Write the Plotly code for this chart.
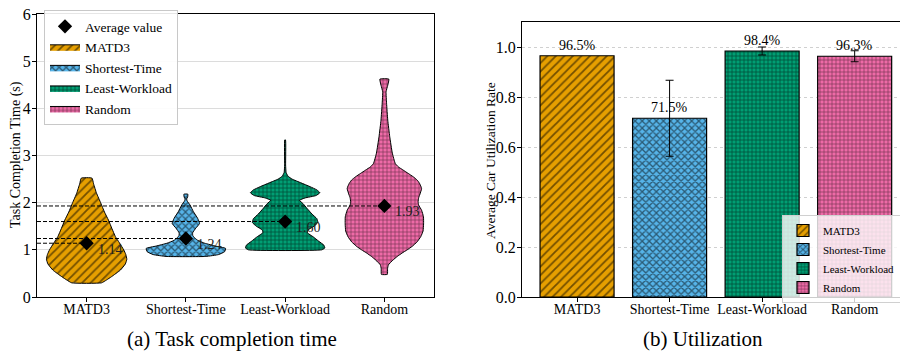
import plotly.graph_objects as go

# ---------------- data ----------------
categories = ["MATD3", "Shortest-Time", "Least-Workload", "Random"]
colors = ["#E69F00", "#56B4E9", "#009E73", "#EE6AA7"]
patterns = ["/", "x", "+", "+"]

# violin outlines: y levels (s) and half-widths (category units)
matd3_y = [0.30, 0.36, 0.43, 0.57, 0.70, 0.80, 0.90, 1.00, 1.15, 1.28, 1.45, 1.63, 1.80, 1.99, 2.20, 2.40, 2.52]
matd3_hw = [0.15, 0.20, 0.25, 0.34, 0.39, 0.405, 0.395, 0.374, 0.33, 0.29, 0.255, 0.22, 0.18, 0.143, 0.10, 0.07, 0.054]

short_y = [0.86, 0.90, 0.96, 1.03, 1.08, 1.14, 1.20, 1.25, 1.30, 1.36, 1.46, 1.56, 1.67, 1.81, 1.95, 2.04, 2.08, 2.12, 2.18]
short_hw = [0.20, 0.33, 0.39, 0.40, 0.30, 0.19, 0.12, 0.09, 0.07, 0.068, 0.10, 0.138, 0.118, 0.076, 0.042, 0.012, 0.008, 0.018, 0.02]

lw_y = [1.00, 1.04, 1.10, 1.18, 1.28, 1.36, 1.42, 1.50, 1.58, 1.66, 1.76, 1.88, 1.98, 2.05, 2.10, 2.15, 2.21, 2.27, 2.34, 2.42, 2.50, 2.56, 2.64, 2.80, 3.33]
lw_hw = [0.37, 0.40, 0.39, 0.34, 0.28, 0.225, 0.23, 0.29, 0.33, 0.32, 0.27, 0.22, 0.18, 0.145, 0.20, 0.31, 0.35, 0.32, 0.25, 0.16, 0.07, 0.03, 0.01, 0.005, 0.004]

rand_y = [0.48, 0.60, 0.68, 0.78, 0.86, 0.93, 1.00, 1.07, 1.17, 1.28, 1.40, 1.55, 1.70, 1.84, 1.95, 2.02, 2.10, 2.16, 2.30, 2.41, 2.48, 2.55, 2.62, 2.69, 2.76, 2.83, 3.05, 3.40, 3.75, 4.11, 4.35, 4.49, 4.62]
rand_hw = [0.03, 0.032, 0.04, 0.085, 0.13, 0.177, 0.23, 0.278, 0.33, 0.367, 0.39, 0.395, 0.394, 0.375, 0.345, 0.34, 0.345, 0.355, 0.375, 0.354, 0.33, 0.29, 0.24, 0.19, 0.14, 0.11, 0.08, 0.054, 0.034, 0.022, 0.017, 0.034, 0.045]

violin_y = [matd3_y, short_y, lw_y, rand_y]
violin_hw = [matd3_hw, short_hw, lw_hw, rand_hw]

mean_time = [1.14, 1.24, 1.60, 1.93]

utilization = [0.965, 0.715, 0.984, 0.963]
util_err = [0.0, 0.152, 0.016, 0.022]

y1_ticks = [0, 1, 2, 3, 4, 5, 6]
y2_ticks = [0.0, 0.2, 0.4, 0.6, 0.8, 1.0]

FONT = "Liberation Serif, Times New Roman, serif"

fig = go.Figure()

# ---------------- left: violins ----------------
pat_size = [6, 5, 4, 4]
pat_sol = [0.3, 0.45, 0.35, 0.3]
for i, name in enumerate(categories):
    ys = violin_y[i]
    hws = violin_hw[i]
    xs = [i + h for h in hws] + [i - h for h in hws[::-1]]
    yy = list(ys) + list(ys[::-1])
    xs.append(xs[0])
    yy.append(yy[0])
    fig.add_trace(go.Scatter(
        x=xs, y=yy, mode="lines", fill="toself", name=name,
        fillcolor=colors[i],
        fillpattern=dict(shape=patterns[i], fgcolor="black", bgcolor=colors[i],
                         size=pat_size[i], solidity=pat_sol[i]),
        line=dict(color="black", width=1, shape="spline", smoothing=0.4),
        xaxis="x", yaxis="y", legend="legend", legendrank=2 + i,
        hoverinfo="skip",
    ))

# dashed mean lines
for i, m in enumerate(mean_time):
    fig.add_trace(go.Scatter(
        x=[-0.5, i], y=[m, m], mode="lines",
        line=dict(color="black", width=1, dash="4px,2px"),
        showlegend=False, xaxis="x", yaxis="y", hoverinfo="skip",
    ))

# mean diamonds
fig.add_trace(go.Scatter(
    x=list(range(len(categories))), y=mean_time, mode="markers",
    marker=dict(symbol="diamond", size=11, color="black"),
    name="Average value", xaxis="x", yaxis="y", legend="legend", legendrank=1,
))

annotations = []
for i, m in enumerate(mean_time):
    annotations.append(dict(
        x=i, y=m, xref="x", yref="y", text=f"{m:.2f}", showarrow=False,
        xanchor="left", yanchor="middle", xshift=9, yshift=-6,
        font=dict(family=FONT, size=14, color="#222"),
    ))

# ---------------- right: bars ----------------
bar_size = [6, 5, 4, 4]
bar_sol = [0.3, 0.45, 0.35, 0.3]
for i, name in enumerate(categories):
    fig.add_trace(go.Bar(
        x=[i], y=[utilization[i]], width=0.8, name=name,
        marker=dict(color=colors[i], line=dict(color="black", width=1.2),
                    pattern=dict(shape=patterns[i], fgcolor="black",
                                 size=bar_size[i], solidity=bar_sol[i])),
        error_y=dict(type="data", array=[util_err[i]], visible=util_err[i] > 0,
                     color="black", thickness=1, width=4),
        xaxis="x2", yaxis="y2", legend="legend2",
    ))
    annotations.append(dict(
        x=i, y=utilization[i], xref="x2", yref="y2", text=f"{utilization[i]*100:.1f}%",
        showarrow=False, xanchor="center", yanchor="bottom", yshift=1,
        font=dict(family=FONT, size=14, color="black"),
    ))

# axis titles and captions
annotations += [
    dict(x=16 / 900, y=(353 - 155) / 353, xref="paper", yref="paper",
         text="Task Completion Time (s)", textangle=-90, showarrow=False,
         xanchor="center", yanchor="middle", font=dict(family=FONT, size=14)),
    dict(x=490 / 900, y=(353 - 160) / 353, xref="paper", yref="paper",
         text="Average Car Utilization Rate", textangle=-90, showarrow=False,
         xanchor="center", yanchor="middle", font=dict(family=FONT, size=13.5)),
    dict(x=232 / 900, y=14 / 353, xref="paper", yref="paper",
         text="(a) Task completion time", showarrow=False,
         xanchor="center", yanchor="middle", font=dict(family=FONT, size=21)),
    dict(x=703 / 900, y=14 / 353, xref="paper", yref="paper",
         text="(b) Utilization", showarrow=False,
         xanchor="center", yanchor="middle", font=dict(family=FONT, size=21)),
]

axis_common = dict(showline=True, linecolor="black", linewidth=1, ticks="outside",
                   ticklen=4, tickcolor="black", zeroline=False)

fig.update_layout(
    width=900, height=353,
    margin=dict(l=0, r=0, t=0, b=0, autoexpand=False),
    paper_bgcolor="white", plot_bgcolor="white",
    font=dict(family=FONT, color="black"),
    barmode="overlay",
    xaxis=dict(domain=[37 / 900, 434 / 900], range=[-0.5, 3.5], anchor="y",
               tickvals=list(range(4)), ticktext=categories, mirror=True,
               showgrid=False, tickfont=dict(family=FONT, size=14),
               ticklabelstandoff=-5, **axis_common),
    yaxis=dict(domain=[56 / 353, 339 / 353], range=[0, 6], anchor="x",
               tickvals=y1_ticks, mirror=True, showgrid=True, gridcolor="#dcdcdc",
               gridwidth=1, tickfont=dict(family=FONT, size=16),
               ticklabelstandoff=-2, **axis_common),
    xaxis2=dict(domain=[522 / 900, 1.0], range=[-0.595, 3.49], anchor="y2",
                tickvals=list(range(4)), ticktext=categories, mirror=True,
                showgrid=False, tickfont=dict(family=FONT, size=14),
                ticklabelstandoff=-5, **axis_common),
    yaxis2=dict(domain=[56 / 353, 331 / 353], range=[0, 1.1], anchor="x2",
                tickvals=y2_ticks, tickformat=".1f", mirror=False, showgrid=True,
                gridcolor="#d0d0d0", griddash="dot", gridwidth=1,
                tickfont=dict(family=FONT, size=16),
                ticklabelstandoff=-2, **axis_common),
    legend=dict(x=44 / 900, y=(353 - 10) / 353, xanchor="left", yanchor="top",
                bgcolor="rgba(255,255,255,0.9)", bordercolor="#c8c8c8", borderwidth=1,
                font=dict(family=FONT, size=13.5), tracegroupgap=0, itemwidth=30),
    legend2=dict(x=782 / 900, y=(353 - 215) / 353, xanchor="left", yanchor="top",
                 bgcolor="rgba(255,255,255,0.8)", bordercolor="#d0d0d0", borderwidth=1,
                 font=dict(family=FONT, size=11), tracegroupgap=0, itemwidth=30),
    annotations=annotations,
    showlegend=True,
)

fig.write_html("out.html")
